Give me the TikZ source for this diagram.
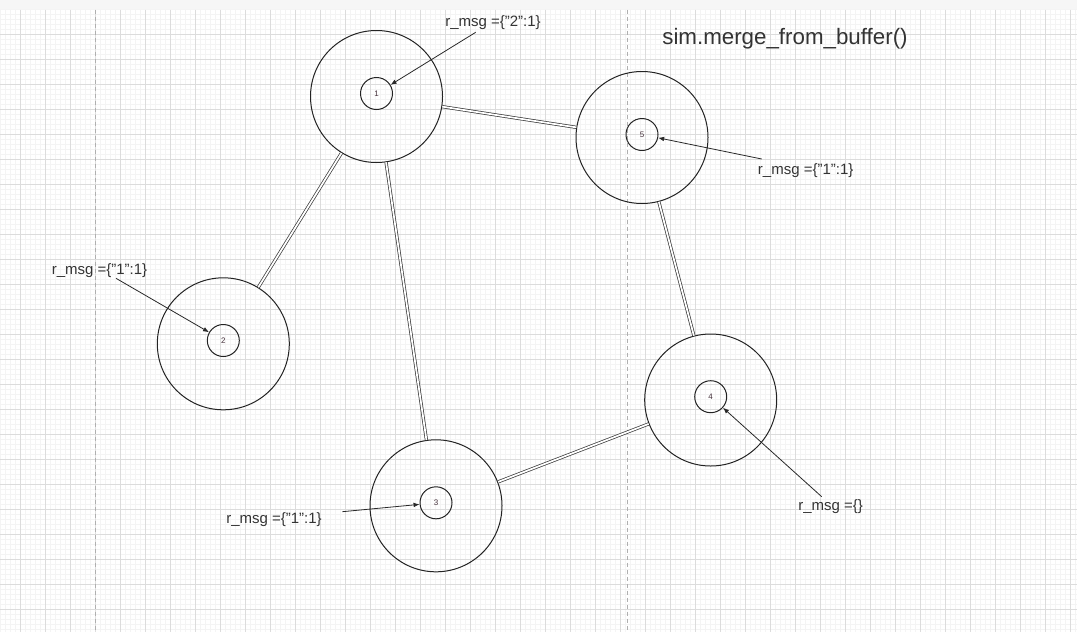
\documentclass[tikz,border=0pt]{standalone}
\usepackage{fontspec}
\setmainfont{Liberation Sans}
\usetikzlibrary{arrows.meta}

\tikzset{every picture/.style={line width=0.75pt}}
\tikzset{
  minorgrid/.style={color={rgb, 255:red, 244; green, 244; blue, 244 }, line width=0.5pt},
  majorgrid/.style={color={rgb, 255:red, 220; green, 220; blue, 220 }, line width=0.6pt},
  pageline/.style={color={rgb, 255:red, 175; green, 175; blue, 175 }, dash pattern={on 3pt off 2.25pt}, line width=0.75pt},
  peer/.style={circle, draw={rgb, 255:red, 35; green, 35; blue, 35 }, minimum size=99pt, inner sep=0pt},
  peerid/.style={circle, draw={rgb, 255:red, 35; green, 35; blue, 35 }, minimum size=24pt, inner sep=0pt, font=\fontsize{6}{7}\selectfont, text={rgb, 255:red, 70; green, 50; blue, 60 }},
  link/.style={draw={rgb, 255:red, 60; green, 60; blue, 60 }, line width=0.55pt, double distance=1.3pt},
  msglabel/.style={font=\fontsize{11.25}{13.5}\selectfont, text={rgb, 255:red, 51; green, 51; blue, 51 }, inner sep=1pt},
  msgarrow/.style={-{Latex[length=4.5pt,width=3.5pt]}, line width=0.6pt, color={rgb, 255:red, 40; green, 40; blue, 40 }}
}

\begin{document}
\begin{tikzpicture}[x=0.75pt,y=0.75pt,yscale=-1,xscale=1]
\useasboundingbox (0,0) rectangle (1077,632);

%Background: toolbar strip and grid
\fill [color={rgb, 255:red, 246; green, 246; blue, 246 }] (0,0) rectangle (1077,9);
\draw [color={rgb, 255:red, 228; green, 228; blue, 228 }] (0,9) -- (1077,9);
\foreach \i in {0,...,215} {\draw [minorgrid] ({0.7+5*\i},9.5) -- ({0.7+5*\i},632);}
\foreach \j in {0,...,124} {\draw [minorgrid] (0,{9.5+5*\j}) -- (1077,{9.5+5*\j});}
\foreach \i in {0,...,42} {\draw [majorgrid] ({20.7+25*\i},9.5) -- ({20.7+25*\i},632);}
\foreach \j in {1,...,24} {\draw [majorgrid] (0,{9.5+25*\j}) -- (1077,{9.5+25*\j});}

%Page breaks
\draw [pageline] (95.7,9.5) -- (95.7,632);
\draw [pageline] (627,9.5) -- (627,632);

%Shape: Circle (peers)
\node [peer] (c1) at (376.5,96.5) {};
\node [peer] (c2) at (223.3,343.8) {};
\node [peer] (c3) at (436,505.8) {};
\node [peer] (c4) at (710.7,400) {};
\node [peer] (c5) at (642,137.5) {};

%Shape: Circle (peer ids)
\node [peerid] (n1) at (376.5,93.5) {1};
\node [peerid] (n2) at (223.3,340.5) {2};
\node [peerid] (n3) at (436,502.8) {3};
\node [peerid] (n4) at (710.7,396.7) {4};
\node [peerid] (n5) at (642,134.5) {5};

%Straight Lines (links)
\draw [link] (c1) -- (c5);
\draw [link] (c1) -- (c2);
\draw [link] (c1) -- (c3);
\draw [link] (c5) -- (c4);
\draw [link] (c3) -- (c4);

% Text Node
\draw (785,39) node (title) [font=\fontsize{16.75}{19}\selectfont, text={rgb, 255:red, 51; green, 51; blue, 51 }] {sim.merge\_from\_buffer()};
% Text Node
\draw (493,22.5) node (lab1) [msglabel] {r\_msg =\{"2":1\}};
% Text Node
\draw (99.5,270.5) node (lab2) [msglabel] {r\_msg =\{"1":1\}};
% Text Node
\draw (274,520) node (lab3) [msglabel] {r\_msg =\{"1":1\}};
% Text Node
\draw (830.7,507) node (lab4) [msglabel] {r\_msg =\{\}};
% Text Node
\draw (805.7,170.5) node (lab5) [msglabel] {r\_msg =\{"1":1\}};

%Arrows from labels to peers
\coordinate (t1) at (475.7,32.3);
\coordinate (t2) at (116,278.3);
\coordinate (t3) at (342.3,511.7);
\coordinate (t4) at (821.7,496.7);
\coordinate (t5) at (761.7,159);
\draw [msgarrow] (t1) -- (n1);
\draw [msgarrow] (t2) -- (n2);
\draw [msgarrow] (t3) -- (n3);
\draw [msgarrow] (t4) -- (n4);
\draw [msgarrow] (t5) -- (n5);

\end{tikzpicture}
\end{document}
